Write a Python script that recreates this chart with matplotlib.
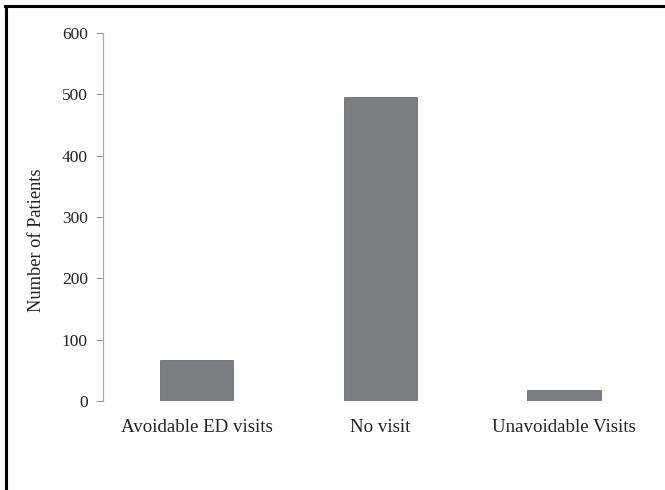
import matplotlib.pyplot as plt
from matplotlib.lines import Line2D

# data
categories = ['Avoidable ED visits', 'No visit', 'Unavoidable Visits']
patients = [67, 495, 18]
y_ticks = [0, 100, 200, 300, 400, 500, 600]

plt.rcParams['font.family'] = ['Liberation Serif', 'DejaVu Serif']

fig = plt.figure(figsize=(6.65, 4.9), dpi=100)
ax = fig.add_axes([0.155, 0.1816, 0.834, 0.7511])

ax.bar(range(len(categories)), patients, width=0.40, color='#7d7e82',
       edgecolor='#6e6f73', linewidth=0.6)

ax.set_xlim(-0.51, 2.51)
ax.set_ylim(0, 600)
ax.set_yticks(y_ticks)
ax.set_xticks(range(len(categories)))
ax.set_xticklabels(categories, fontsize=13.6, color='#222222')
ax.tick_params(axis='y', labelsize=12.5, labelcolor='#222222', color='#999999',
               length=5, width=0.8, pad=6)
ax.tick_params(axis='x', length=0, pad=13)

for side in ['top', 'right', 'bottom']:
    ax.spines[side].set_visible(False)
ax.spines['left'].set_color('#aaaaaa')
ax.spines['left'].set_linewidth(0.9)

ax.set_ylabel('Number of Patients', fontsize=13.2, color='#222222')
ax.yaxis.set_label_coords(-0.104, 0.4375)

# outer frame (left and top edges visible)
fig.add_artist(Line2D([0.009, 0.009], [0.0, 0.987], color='black', lw=2.2,
                      transform=fig.transFigure))
fig.add_artist(Line2D([0.008, 1.0], [0.987, 0.987], color='black', lw=2.2,
                      transform=fig.transFigure))

plt.savefig('out.png', dpi=100)
